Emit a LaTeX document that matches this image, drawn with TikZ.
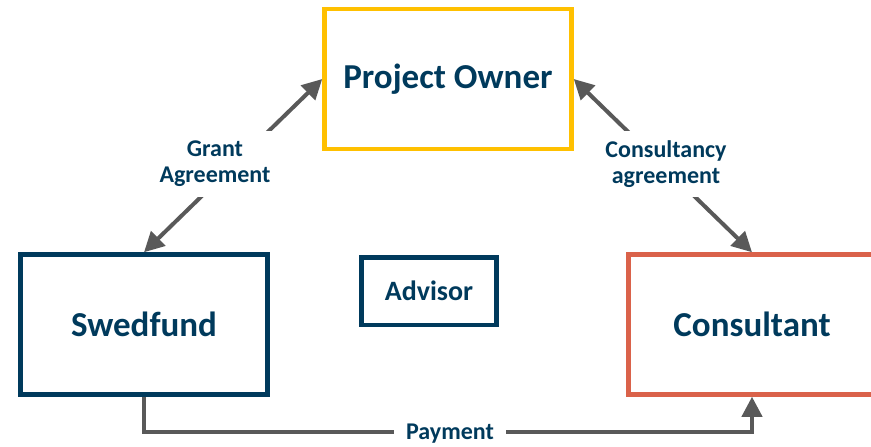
\documentclass[tikz,border=0pt]{standalone}
\usepackage{fontspec}
\setmainfont{Carlito}
\usetikzlibrary{arrows.meta}
\definecolor{sf_blue}{RGB}{0, 58, 92}
\definecolor{sf_yellow}{RGB}{255, 192, 0}
\definecolor{sf_red}{RGB}{218, 98, 74}
\definecolor{sf_grey}{RGB}{89, 89, 89}
\tikzstyle{party}=[rectangle,draw=sf_blue,line width=4.5pt,text=sf_blue,
  font=\fontsize{35}{38}\selectfont\bfseries,minimum width=247pt,minimum height=140pt]
\tikzstyle{deal}=[fill=white,text=sf_blue,align=center,
  font=\fontsize{24}{26}\selectfont\bfseries,inner xsep=5pt,inner ysep=10pt]
\tikzstyle{flow}=[draw=sf_grey,line width=4pt,>={Triangle[length=20pt,width=20pt]}]

\begin{document}
\begin{tikzpicture}[x=1pt,y=-1pt]
		\useasboundingbox (0,0) rectangle (871,447);
		\node[style=party,draw=sf_yellow] (owner) at (448, 79) {Project Owner};
		\node[style=party] (fund) at (144, 324.5) {Swedfund};
		\node[style=party,draw=sf_red] (consultant) at (752, 324.5) {Consultant};
		\node[style=party,minimum width=135pt,minimum height=67.5pt,
			font=\fontsize{28}{30}\selectfont\bfseries] (advisor) at (429, 291) {Advisor};
		\node[text=sf_blue,font=\fontsize{24}{26}\selectfont\bfseries,inner xsep=12pt,
			text depth=0pt] (pay) at (450, 432) {Payment};
		\draw [style=flow,<->] (fund.north) to (owner.west);
		\draw [style=flow,<->] (owner.east) to (consultant.north);
		\node[style=deal] (grant) at (215, 164) {Grant\\Agreement};
		\node[style=deal] (consultancy) at (666, 164) {Consultancy\\agreement};
		\draw [style=flow] (fund.south) |- (pay.west);
		\draw [style=flow,->] (pay.east) -| (consultant.south);
\end{tikzpicture}
\end{document}
